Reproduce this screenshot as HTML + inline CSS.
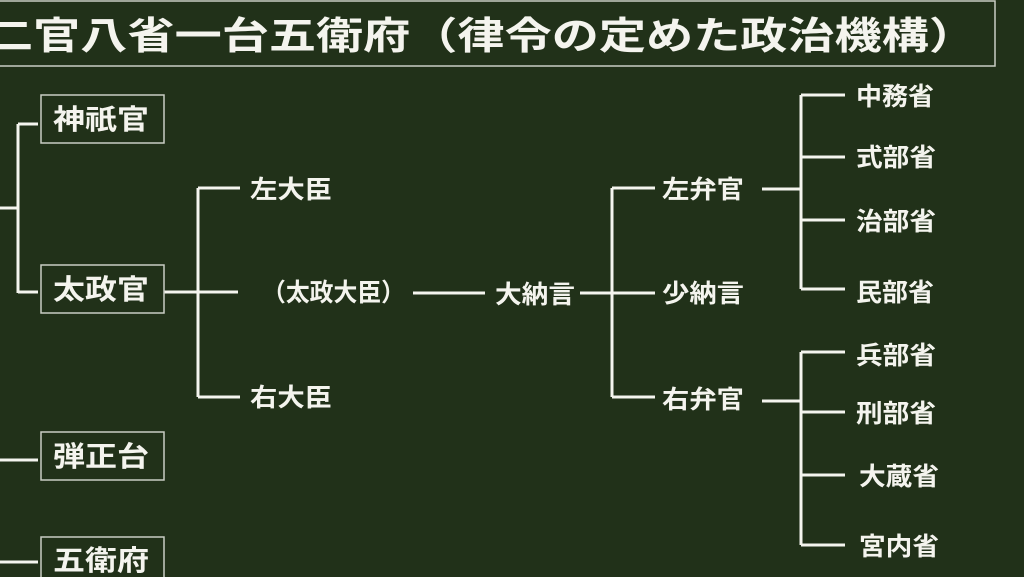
<!DOCTYPE html>
<html><head><meta charset="utf-8"><style>
html,body{margin:0;padding:0;background:#213119;}
svg{display:block}
text{font-family:"Liberation Sans","Noto Sans CJK JP",sans-serif;fill:#f4f4ee;font-weight:bold;}
</style></head><body>
<svg width="1024" height="577" viewBox="0 0 1024 577">
<rect width="1024" height="577" fill="#213119"/>
<rect x="-5" y="1" width="1000" height="65" fill="none" stroke="#c9cdc4" stroke-width="1.5"/>
<text x="-14" y="49" font-size="38" textLength="990" lengthAdjust="spacingAndGlyphs">二官八省一台五衛府（律令の定めた政治機構）</text>
<g stroke="#f4f4ee" stroke-width="3" fill="none">
<path d="M0 208H18M18 124V293M18 124H38M18 292H38"/>
<path d="M0 460H38M0 562H38"/>
<path d="M164 292H238M198 188V397M198 188H240M198 397H240"/>
<path d="M413 293H485M580 293H655M612 188V397M612 188H655M612 397H655"/>
<path d="M762 189H801M801 95V289M801 95H845M801 157H845M801 220H845M801 289H845"/>
<path d="M762 401H801M801 352V545M801 352H845M801 412H845M801 475H845M801 545H845"/>
</g>
<g stroke="#c9cdc4" stroke-width="1.5" fill="none">
<rect x="41" y="95" width="123" height="48"/>
<rect x="41" y="265" width="123" height="48"/>
<rect x="41" y="432" width="123" height="48"/>
<rect x="41" y="537" width="123" height="48"/>
</g>
<g font-size="28">
<text x="53" y="129" textLength="96" lengthAdjust="spacingAndGlyphs">神祇官</text>
<text x="53" y="299" textLength="96" lengthAdjust="spacingAndGlyphs">太政官</text>
<text x="53" y="466" textLength="96" lengthAdjust="spacingAndGlyphs">弾正台</text>
<text x="53" y="570" textLength="96" lengthAdjust="spacingAndGlyphs">五衛府</text>
</g>
<g font-size="25">
<text x="250" y="198" textLength="82" lengthAdjust="spacingAndGlyphs">左大臣</text>
<text x="262" y="301" textLength="143" lengthAdjust="spacingAndGlyphs">（太政大臣）</text>
<text x="250" y="406" textLength="82" lengthAdjust="spacingAndGlyphs">右大臣</text>
<text x="495" y="303" textLength="80" lengthAdjust="spacingAndGlyphs">大納言</text>
<text x="662" y="198" textLength="82" lengthAdjust="spacingAndGlyphs">左弁官</text>
<text x="662" y="302" textLength="82" lengthAdjust="spacingAndGlyphs">少納言</text>
<text x="662" y="408" textLength="82" lengthAdjust="spacingAndGlyphs">右弁官</text>
<text x="856" y="105" textLength="78" lengthAdjust="spacingAndGlyphs">中務省</text>
<text x="856" y="166" textLength="80" lengthAdjust="spacingAndGlyphs">式部省</text>
<text x="856" y="230" textLength="80" lengthAdjust="spacingAndGlyphs">治部省</text>
<text x="856" y="301" textLength="78" lengthAdjust="spacingAndGlyphs">民部省</text>
<text x="856" y="364" textLength="80" lengthAdjust="spacingAndGlyphs">兵部省</text>
<text x="856" y="422" textLength="80" lengthAdjust="spacingAndGlyphs">刑部省</text>
<text x="859" y="485" textLength="80" lengthAdjust="spacingAndGlyphs">大蔵省</text>
<text x="859" y="555" textLength="80" lengthAdjust="spacingAndGlyphs">宮内省</text>
</g>
</svg>
</body></html>
